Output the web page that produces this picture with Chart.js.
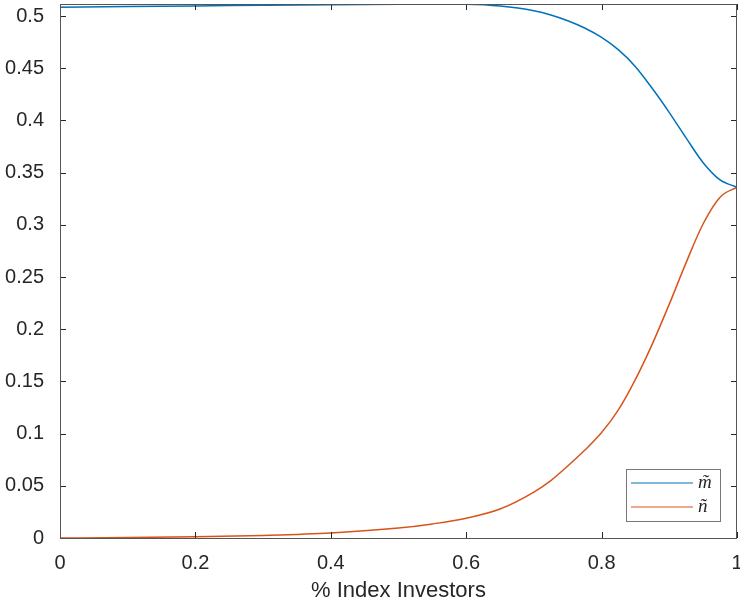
<!DOCTYPE html>
<html>
<head>
<meta charset="utf-8">
<script src="https://cdn.jsdelivr.net/npm/chart.js@4"></script>
<style>
  html, body { margin: 0; padding: 0; background: #fff; }
  #wrap { width: 740px; height: 608px; }
</style>
</head>
<body>
<div id="wrap"><canvas id="chart" width="740" height="608"></canvas></div>
<script>
// values
const xValues = [0, 0.1, 0.2, 0.3, 0.4, 0.5, 0.55, 0.6, 0.65, 0.7, 0.725, 0.75, 0.775, 0.8, 0.825, 0.85, 0.875, 0.9, 0.925, 0.95, 0.975, 1];
const mTilde  = [0.5083, 0.5090, 0.5096, 0.5103, 0.5109, 0.5113, 0.5114, 0.5112, 0.5095, 0.5050, 0.5010, 0.4955, 0.4885, 0.4795, 0.4675, 0.4515, 0.4305, 0.4075, 0.3830, 0.3595, 0.3430, 0.3360];
const nTilde  = [0.0000, 0.0004, 0.0012, 0.0025, 0.0048, 0.0095, 0.0135, 0.0190, 0.0278, 0.0440, 0.0550, 0.0690, 0.0840, 0.1010, 0.1230, 0.1520, 0.1860, 0.2240, 0.2640, 0.3010, 0.3265, 0.3360];
const seriesLabels = ['m\u0303', 'n\u0303'];
const xTitle = '% Index Investors';

const AX = '#262626';
const pts = ys => xValues.map((x, i) => ({ x, y: ys[i] }));
const fmt = v => String(Number(v.toFixed(2)));

// MATLAB-like box with inward ticks on all four sides
const boxTicks = {
  id: 'boxTicks',
  afterDraw(chart){
    const { ctx, chartArea: a, scales: { x, y } } = chart;
    ctx.save();
    ctx.strokeStyle = AX;
    ctx.lineWidth = 1;
    ctx.beginPath();
    x.ticks.forEach(t => {
      const px = Math.round(x.getPixelForValue(t.value)) + 0.5;
      ctx.moveTo(px, a.bottom); ctx.lineTo(px, a.bottom - 6);
      ctx.moveTo(px, a.top); ctx.lineTo(px, a.top + 6);
    });
    y.ticks.forEach(t => {
      const py = Math.round(y.getPixelForValue(t.value)) + 0.5;
      ctx.moveTo(a.left, py); ctx.lineTo(a.left + 6, py);
      ctx.moveTo(a.right, py); ctx.lineTo(a.right - 6, py);
    });
    ctx.stroke();
    ctx.strokeStyle = '#555';
    ctx.strokeRect(Math.round(a.left) + 0.5, Math.round(a.top) + 0.5, Math.round(a.right - a.left) - 1, Math.round(a.bottom - a.top));
    ctx.restore();
  }
};

// legend box in lower right corner of the axes
const cornerLegend = {
  id: 'cornerLegend',
  afterDraw(chart){
    const { ctx, chartArea: a } = chart;
    const w = 94, h = 52;
    const bx = a.right - 111, by = a.bottom - 69;
    ctx.save();
    ctx.fillStyle = '#fff';
    ctx.fillRect(bx, by, w, h);
    ctx.strokeStyle = '#777';
    ctx.lineWidth = 1;
    ctx.strokeRect(bx + 0.5, by + 0.5, w, h);
    chart.data.datasets.forEach((ds, i) => {
      const ly = by + 14 + i * 24;
      ctx.strokeStyle = ds.borderColor;
      ctx.lineWidth = 1.2;
      ctx.beginPath();
      ctx.moveTo(bx + 5, ly); ctx.lineTo(bx + 67, ly);
      ctx.stroke();
      ctx.fillStyle = AX;
      ctx.font = 'italic 19px "Liberation Serif"';
      ctx.textBaseline = 'middle';
      ctx.fillText(ds.label, bx + 72, ly);
    });
    ctx.restore();
  }
};

new Chart(document.getElementById('chart').getContext('2d'), {
  type: 'line',
  data: {
    datasets: [
      { label: seriesLabels[0], data: pts(mTilde), borderColor: '#0072BD', borderWidth: 1.5, pointRadius: 0, cubicInterpolationMode: 'monotone' },
      { label: seriesLabels[1], data: pts(nTilde), borderColor: '#D95319', borderWidth: 1.5, pointRadius: 0, cubicInterpolationMode: 'monotone' }
    ]
  },
  options: {
    responsive: false,
    animation: false,
    layout: { padding: { top: 4, right: 3, left: 0, bottom: 0 } },
    plugins: { legend: { display: false }, tooltip: { enabled: false } },
    scales: {
      x: {
        type: 'linear', min: 0, max: 1,
        grid: { display: false },
        border: { display: false },
        ticks: { stepSize: 0.2, callback: fmt, color: AX, padding: 5, maxRotation: 0, font: { family: 'Liberation Sans', size: 20 } },
        title: { display: true, text: xTitle, color: AX, font: { family: 'Liberation Sans', size: 22 }, padding: { top: 4, bottom: 4 } },
        afterFit(s){ s.height = 70; s.paddingLeft = 0; s.paddingRight = 0; }
      },
      y: {
        type: 'linear', min: 0, max: 0.5115,
        grid: { display: false },
        border: { display: false },
        ticks: { stepSize: 0.05, includeBounds: false, callback: fmt, color: AX, padding: 8, font: { family: 'Liberation Sans', size: 20 } },
        afterFit(s){ s.width = 60; s.paddingTop = 0; s.paddingBottom = 0; }
      }
    }
  },
  plugins: [boxTicks, cornerLegend]
});
</script>
</body>
</html>
